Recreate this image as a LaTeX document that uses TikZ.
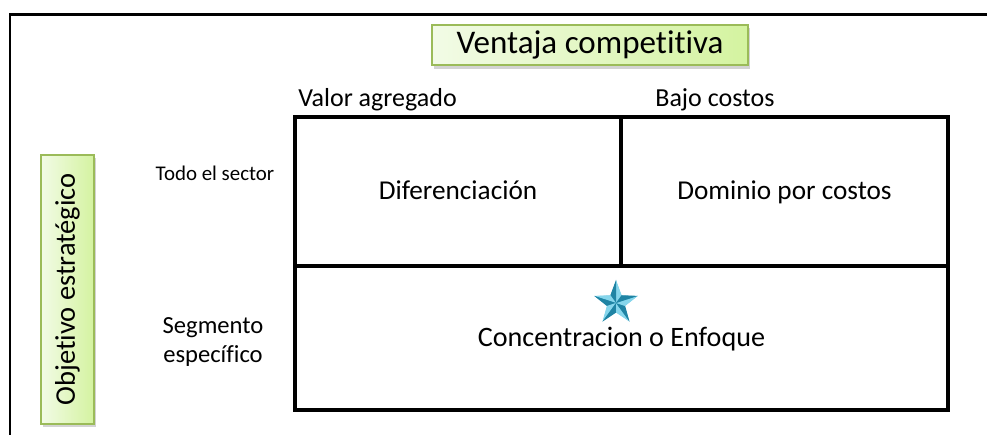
\documentclass[tikz,border=0pt]{standalone}
\usepackage{fontspec}
\setmainfont{Carlito}[Ligatures=NoCommon]
\usetikzlibrary{shapes.geometric,shadows}

\definecolor{olive}{HTML}{9BBB59}
\definecolor{paleleft}{HTML}{F2FBE6}
\definecolor{paleright}{HTML}{D4F3A0}
\definecolor{aqua}{HTML}{3CAACA}
\definecolor{aqualight}{HTML}{86D6EC}
\definecolor{aquadark}{HTML}{1F84A4}

\tikzset{
    cell/.style={draw, line width=2.3pt, inner sep=0pt, text height=2ex, text depth=0ex},
    greenbox/.style={draw=olive, line width=1pt, left color=paleleft, right color=paleright,
        drop shadow={shadow xshift=0.03cm, shadow yshift=-0.07cm, opacity=0.35}},
}

\begin{document}
\begin{tikzpicture}[font=\fontsize{15.5}{18}\selectfont]
    \useasboundingbox (0,0) rectangle (19.74,8.7);

    % Outer frame
    \draw[line width=1.7pt] (0.2,0) -- (0.2,8.4) -- (19.74,8.4);

    % Titles
    \node[greenbox, minimum width=6.32cm, minimum height=0.72cm, font=\fontsize{18.8}{22}\selectfont] (ventaja) at (11.8,7.8) {Ventaja competitiva};
    \node[greenbox, rotate=90, minimum width=5.38cm, minimum height=1.06cm, font=\fontsize{16.2}{19}\selectfont] (objetivo) at (1.35,2.91) {Objetivo estratégico};

    % Matrix cells
    \node[cell, minimum width=6.52cm, minimum height=2.98cm] (dif) at (9.16,4.87) {Diferenciación};
    \node[cell, minimum width=6.54cm, minimum height=2.98cm] (dom) at (15.69,4.87) {Dominio por costos};
    \node[cell, minimum width=13.06cm, minimum height=2.88cm, font=\fontsize{16}{19}\selectfont] (conc) at (12.43,1.94) {Concentracion o Enfoque};

    % Column labels
    \node[anchor=west, inner sep=0pt, font=\fontsize{14.8}{18}\selectfont] (valor) at (5.96,6.7) {Valor agregado};
    \node[anchor=west, inner sep=0pt, font=\fontsize{14.8}{18}\selectfont] (bajo) at (13.1,6.7) {Bajo costos};

    % Row labels
    \node[font=\fontsize{11.9}{14}\selectfont] (todo) at (4.3,5.24) {Todo el sector};
    \node[align=center, font=\fontsize{14}{17}\selectfont] (segmento) at (4.26,1.86) {Segmento\\específico};

    % Star (bevelled)
    \node[star, star points=5, star point ratio=2.4, minimum size=0.88cm, inner sep=0pt,
        fill=aqua] (estrella) at (12.32,2.64) {};
    \foreach \i [evaluate=\i as \j using {int(mod(\i+3,5)+1)}] in {1,...,5} {
        \fill[aqualight] (estrella.center) -- (estrella.outer point \i) -- (estrella.inner point \j) -- cycle;
        \fill[aquadark] (estrella.center) -- (estrella.outer point \i) -- (estrella.inner point \i) -- cycle;
    }
\end{tikzpicture}
\end{document}
